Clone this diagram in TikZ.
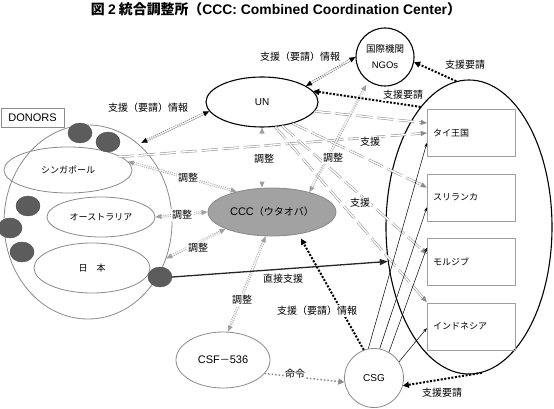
\documentclass[tikz,border=0pt]{standalone}
\usepackage{fontspec}
\setmainfont{Noto Sans CJK JP}
\newfontfamily\lat{Liberation Sans}
\usetikzlibrary{arrows.meta,positioning,shapes.geometric}
\definecolor{linegray}{HTML}{8A8A8A}
\definecolor{lightline}{HTML}{A0A0A0}
\definecolor{cccfill}{HTML}{A2A2A2}
\definecolor{dotfill}{HTML}{5C5C5C}
\tikzset{
    %Define style for the round nodes
    grp/.style={
           ellipse,
           draw=linegray, thick,
           inner sep=0pt},
    org/.style={
           ellipse,
           draw=black, line width=1.1pt,
           inner sep=0pt,
           align=center},
    donor/.style={
           ellipse,
           draw=dotfill!80!black, fill=dotfill,
           minimum width=24, minimum height=20},
    cntry/.style={
           rectangle,
           draw=lightline,
           text width=76, inner xsep=6,
           minimum height=47,
           align=left,
           font=\fontsize{9}{11}\selectfont},
    lbl/.style={
           fill=white, inner sep=1pt},
    % Define arrow styles
    infob/.style={
           draw=black!60, line width=0.8pt,
           double=white, double distance=1.1pt,
           dash pattern=on 1pt off 1.2pt,
           {Triangle[length=6pt,width=5pt,color=black]}-{Triangle[length=6pt,width=5pt,color=black]}},
    adjg/.style={
           draw=lightline, line width=0.8pt,
           double=white, double distance=1.1pt,
           dash pattern=on 1pt off 1.2pt,
           {Triangle[length=6pt,width=5pt]}-{Triangle[length=6pt,width=5pt]}},
    help/.style={
           draw=linegray, line width=0.5pt,
           double=white, double distance=1.4pt,
           dash pattern=on 16pt off 5pt,
           -{Triangle[length=6pt,width=5pt]}},
    req/.style={
           draw=black, line width=2pt,
           dash pattern=on 2pt off 1.6pt,
           -{Triangle[length=6pt,width=6pt]}},
    flow/.style={
           draw=black, line width=0.5pt,
           -{Stealth[length=4pt,width=3pt]}},
    order/.style={
           draw=linegray, line width=1.5pt,
           dash pattern=on 1.5pt off 2pt,
           -{Triangle[length=6pt,width=6pt]}},
    direct/.style={
           draw=black!85, line width=1.3pt,
           -{Triangle[length=8pt,width=6pt]}}
}
\begin{document}
\begin{tikzpicture}[x=1pt, y=-1pt, font=\fontsize{10}{12}\selectfont]
 \useasboundingbox (0,0) rectangle (554,409);
 \node (title) at (276,9) {\fontsize{13.9}{16}\selectfont\bfseries 図 {\lat 2} 統合調整所（{\lat CCC: Combined Coordination Center}）};

 % donors side
 \node[grp, minimum width=168, minimum height=194] (donors) at (88,222) {};
 \node[rectangle, draw=linegray, minimum width=63, minimum height=19] (donlbl) at (32.5,117.5) {\lat\fontsize{11}{13}\selectfont DONORS};
 \node[grp, minimum width=128, minimum height=46, font=\fontsize{9}{11}\selectfont] (sing) at (68,170) {シンガポール};
 \node[grp, minimum width=108, minimum height=40, font=\fontsize{9}{11}\selectfont] (aus) at (101,217) {オーストラリア};
 \node[grp, minimum width=116, minimum height=50, font=\fontsize{9}{11}\selectfont] (jpn) at (92,268) {日　本};
 \foreach \n/\p in {1/{(80,133)},2/{(108,142)},3/{(28,206)},4/{(10,228)},5/{(22,252)},6/{(160,277)}}
   \node[donor] (d\n) at \p {};
 \coordinate (dout) at (118,157);

 % centre
 \node[org, minimum width=112, minimum height=50] (un) at (262,102) {\lat UN};
 \node[org, minimum width=58, minimum height=58, font=\fontsize{9.5}{16}\selectfont] (ngo) at (385,57) {国際機関\\{\lat NGOs}};
 \node[ellipse, draw=linegray, fill=cccfill, thick, minimum width=120, minimum height=48] (ccc) at (272,212) {{\lat\fontsize{11}{13}\selectfont CCC}（ウタオバ）};
 \node[grp, minimum width=94, minimum height=56] (csf) at (223,360) {{\lat\fontsize{11}{13}\selectfont CSF}－{\lat\fontsize{11}{13}\selectfont 536}};
 \node[circle, draw=linegray, thick, minimum size=59, inner sep=0pt] (csg) at (374,378) {\lat CSG};

 % recipients
 \node[grp, draw=black, line width=1.1pt, minimum width=166, minimum height=294] (recip) at (469,227) {};
 \node[cntry] (tai) at (471,133) {タイ王国};
 \node[cntry, below=17pt of tai] (sri) {スリランカ};
 \node[cntry, below=17pt of sri] (mal) {モルジブ};
 \node[cntry, below=17pt of mal] (ind) {インドネシア};

 % support (double lines)
 \draw[help] (un.-10) -- ([yshift=10pt]tai.west);
 \draw[help] (dout) -- (tai.west);
 \draw[help] (un.-35) -- ([yshift=10pt]sri.west);
 \draw[help] (un.-50) -- ([yshift=8pt]mal.west);
 \draw[help] (un.-62) -- ([yshift=24pt]ind.west);

 % CSG to countries
 \draw[flow] (csg.101) -- ([yshift=-10pt]tai.west);
 \draw[flow] (csg.79) -- ([yshift=-10pt]sri.west);
 \draw[flow] (csg.60) -- ([yshift=14pt]mal.west);
 \draw[flow] (csg.33) -- ([yshift=-2pt]ind.west);

 % coordination
 \draw[infob] (un.20) -- (ngo.west);
 \draw[infob, shorten >=3pt] (un.190) -- (donors.57);
 \draw[adjg] (un.south) -- (un.south |- ccc.north);
 \draw[adjg, shorten <=4pt] (ngo.235) -- (ccc.28);
 \draw[adjg] (sing.8) -- (ccc.150);
 \draw[adjg] (aus.east) -- (ccc.west);
 \draw[adjg] (donors.-25) -- (ccc.200);
 \draw[adjg] (ccc.-105) -- (csf.80);

 % requests
 \draw[req] (recip.95) -- (ngo.-10);
 \draw[req] (recip.112) -- (un.12);
 \draw[req] (recip.-85) -- (csg.-15);
 \draw[req, shorten >=5pt] (csg.110) -- (ccc.-40);
 \draw[order] (csf.-18) -- (csg.188);
 \draw[direct] (d6.east) -- (recip.203);

 % labels
 \node[lbl] (l1) at (300,57) {支援（要請）情報};
 \node[lbl] (l2) at (465,65) {支援要請};
 \node[lbl] (l3) at (403,95) {支援要請};
 \node[lbl] (l4) at (148,108) {支援（要請）情報};
 \node[lbl] (l5) at (264,159) {調整};
 \node[lbl] (l6) at (333,158) {調整};
 \node[lbl] (l7) at (370,142) {支援};
 \node[lbl] (l8) at (360,203) {支援};
 \node[lbl] (l9) at (188,178) {調整};
 \node[lbl] (l10) at (182,215) {調整};
 \node[lbl] (l11) at (198,248) {調整};
 \node[lbl] (l12) at (283,279) {直接支援};
 \node[lbl] (l13) at (242,300) {調整};
 \node[lbl] (l14) at (317,311) {支援（要請）情報};
 \node[lbl] (l15) at (295,374) {命令};
 \node[lbl] (l16) at (442,393) {支援要請};
\end{tikzpicture}
\end{document}
